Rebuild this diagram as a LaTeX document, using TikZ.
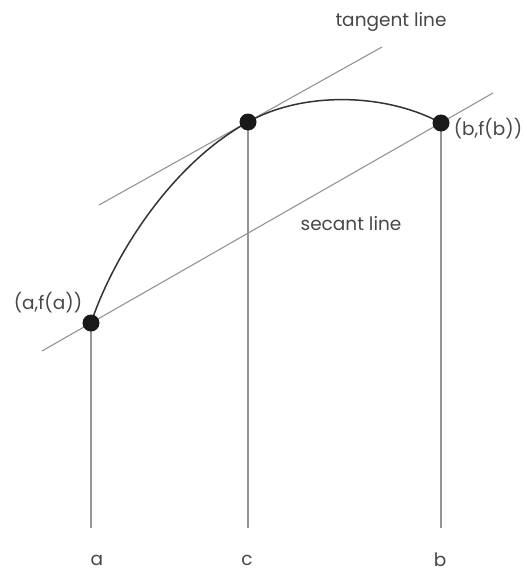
\documentclass[tikz,border=0pt]{standalone}
\usepackage{fontspec}
\setmainfont{Poppins}
\usetikzlibrary{backgrounds}
\begin{document}
\begin{tikzpicture}[x=1pt,y=-1pt,
  guide/.style={draw=black!42,line width=1.1pt},
  curveline/.style={draw=black!80,line width=1.5pt},
  dotnode/.style={circle,fill=black!90,minimum size=17pt,inner sep=0pt},
  lbl/.style={text=black!72,font=\fontsize{18.5}{22}\selectfont,inner sep=0pt}]
\useasboundingbox (0,0) rectangle (527,573);
% points
\node[dotnode] (A) at (91,323) {};
\node[dotnode] (C) at (248,122) {};
\node[dotnode] (B) at (441,123) {};
% axis feet
\coordinate (Af) at (91,528);
\coordinate (Cf) at (248,528);
\coordinate (Bf) at (441,528);
% secant and tangent ends
\coordinate (S1) at (42,351);
\coordinate (S2) at (493,93);
\coordinate (T1) at (99,205);
\coordinate (T2) at (382,47);
\begin{pgfonlayer}{background}
\draw[guide] (S1) -- (S2);
\draw[guide] (T1) -- (T2);
\draw[guide] (A.center) -- (Af);
\draw[guide] (C.center) -- (Cf);
\draw[guide] (B.center) -- (Bf);
\draw[curveline] (A.center) .. controls (113,257) and (170,165) .. (C.center)
  .. controls (303,91) and (386,93) .. (B.center);
\end{pgfonlayer}
% labels
\node[lbl] (tl) at (391,22) {tangent line};
\node[lbl] (sl) at (351,224) {secant line};
\node[lbl] (bl) at (488,129) {(b,f(b))};
\node[lbl] (al) at (48,303) {(a,f(a))};
\node[lbl] (la) at (97,560) {a};
\node[lbl] (lc) at (247,560) {c};
\node[lbl] (lb) at (440,560) {b};
\end{tikzpicture}
\end{document}
